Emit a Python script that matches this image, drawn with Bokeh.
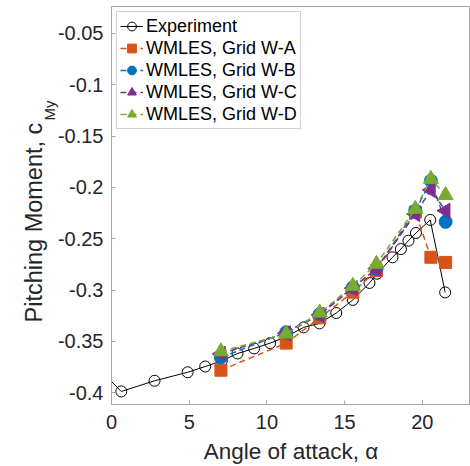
import math
from bokeh.plotting import figure
from bokeh.models import (Range1d, FixedTicker, CustomJSTickFormatter, Title,
                          Legend, LegendItem)
from bokeh.embed import file_html
from bokeh.resources import INLINE

# ---------------- data ----------------
exp_alpha = [-2.0, 0.63, 2.77, 4.9, 6.03, 7.1, 8.11, 9.18, 10.21, 11.3, 12.36,
             13.38, 14.46, 15.53, 16.6, 17.08, 18.08, 18.62, 19.11, 19.59,
             20.51, 21.47]
exp_cm = [-0.358, -0.3987, -0.3883, -0.380, -0.3744, -0.3688, -0.3617, -0.3568,
          -0.3516, -0.345, -0.3363, -0.3324, -0.3223, -0.3095, -0.293, -0.284,
          -0.268, -0.260, -0.2518, -0.2443, -0.2316, -0.3022]

les_alpha = [7.04, 11.24, 13.4, 15.53, 17.05, 19.55, 20.55, 21.5]
cm_WA = [-0.378, -0.3516, -0.327, -0.302, -0.281, -0.224, -0.268, -0.273]
cm_WB = [-0.3656, -0.341, -0.3233, -0.2973, -0.2794, -0.2226, -0.1935, -0.2335]
cm_WC = [-0.362, -0.342, -0.324, -0.298, -0.279, -0.2258, -0.2024, -0.2226]
cm_WD = [-0.3598, -0.3425, -0.322, -0.296, -0.2745, -0.221, -0.1917, -0.2075]

series_names = ["WMLES, Grid W-A", "WMLES, Grid W-B", "WMLES, Grid W-C", "WMLES, Grid W-D"]
y_ticks = [-0.4, -0.35, -0.3, -0.25, -0.2, -0.15, -0.1, -0.05]
x_ticks = [0, 5, 10, 15, 20]

FONT = "Liberation Sans"
AX = "#a6a6a6"
TXT = "#262626"

p = figure(width=470, height=466, output_backend="svg", toolbar_location=None,
           x_range=Range1d(0, 23.1), y_range=Range1d(-0.4114, -0.0237),
           min_border_left=111, min_border_right=0, min_border_top=6,
           min_border_bottom=62)
p.background_fill_color = "white"
p.border_fill_color = "white"
p.outline_line_color = AX
p.outline_line_width = 1
p.xgrid.visible = False
p.ygrid.visible = False

for ax in (p.xaxis[0], p.yaxis[0]):
    ax.major_tick_in = 4
    ax.major_tick_out = 0
    ax.minor_tick_line_color = None
    ax.axis_line_color = AX
    ax.major_tick_line_color = AX
    ax.major_label_text_font = FONT
    ax.major_label_text_font_size = "20px"
    ax.major_label_text_color = TXT
    ax.major_label_standoff = 8
p.xaxis[0].major_label_standoff = 10

p.xaxis[0].ticker = FixedTicker(ticks=x_ticks)
p.yaxis[0].ticker = FixedTicker(ticks=y_ticks)
p.yaxis[0].formatter = CustomJSTickFormatter(
    code="return (Math.round(tick*100)/100).toString();")

p.xaxis[0].axis_label = "Angle of attack, α"
p.xaxis[0].axis_label_text_font = FONT
p.xaxis[0].axis_label_text_font_style = "normal"
p.xaxis[0].axis_label_text_font_size = "22.5px"
p.xaxis[0].axis_label_text_color = TXT
p.xaxis[0].axis_label_standoff = 7

# ---------------- glyphs ----------------
exp_line = p.line(exp_alpha, exp_cm, line_color="black", line_width=1)
exp_pts = p.scatter(exp_alpha, exp_cm, marker="circle", size=11, fill_alpha=0,
                    line_color="black", line_width=1)

colors = ["#D95319", "#0072BD", "#7E2F8E", "#77AC30"]
markers = ["square", "circle", "triangle", "triangle"]
angles = [0, 0, math.pi / 2, 0]
sizes = [12, 13, 15, 15]
vals = [cm_WA, cm_WB, cm_WC, cm_WD]

items = [LegendItem(label="Experiment", renderers=[exp_line, exp_pts])]
for name, c, m, a, s, v in zip(series_names, colors, markers, angles, sizes, vals):
    ln = p.line(les_alpha, v, line_color=c, line_width=1.5, line_dash="6 4")
    sc = p.scatter(les_alpha, v, marker=m, angle=a, size=s, fill_color=c,
                   line_color=c, line_width=1)
    items.append(LegendItem(label=name, renderers=[ln, sc]))

legend = Legend(items=items, location="top_left", margin=5, padding=3,
                spacing=0, glyph_width=23, glyph_height=22, label_height=22,
                label_standoff=3, label_text_font=FONT,
                label_text_font_size="18px", label_text_color="black",
                border_line_color=AX, border_line_width=1,
                background_fill_color="white", background_fill_alpha=1)
p.add_layout(legend)

# ---------------- y axis label (with subscript) ----------------
sub = Title(text="My", align="left", offset=284, text_font=FONT,
            text_font_size="15px", text_font_style="normal", text_color=TXT,
            standoff=-6)
p.add_layout(sub, "left")
main = Title(text="Pitching Moment, c", align="left", offset=82, text_font=FONT,
             text_font_size="23.5px", text_font_style="normal", text_color=TXT,
             standoff=-10)
p.add_layout(main, "left")

open("out.html", "w").write(file_html(p, INLINE))
